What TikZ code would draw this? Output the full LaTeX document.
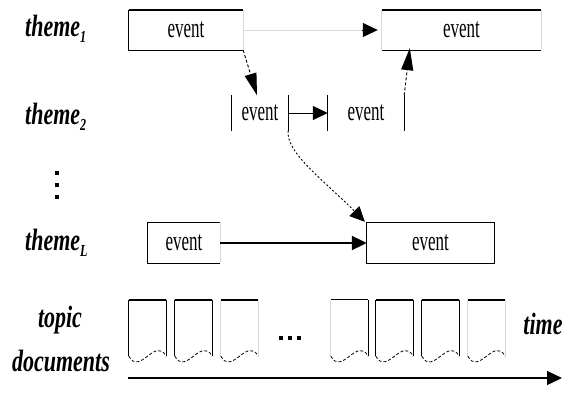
\documentclass[tikz,border=0pt]{standalone}
\usepackage{fontspec}
\setmainfont{Liberation Serif}
\usetikzlibrary{arrows.meta}
\newcommand{\talltext}[1]{\scalebox{1}[1.4]{#1}}
\newcommand{\evtext}{\scalebox{1}[1.65]{event}}
\newcommand{\lowsub}[1]{\raisebox{-4pt}{\fontsize{12}{12}\selectfont #1}}
\begin{document}
\begin{tikzpicture}[x=1pt,y=-1pt,
  lbl/.style={font=\fontsize{22}{22}\selectfont\bfseries\itshape, inner sep=0pt},
  evbox/.style={font=\fontsize{17}{17}\selectfont, inner sep=0pt, minimum height=40pt},
  edge/.style={line width=1pt, black},
  topline/.style={line width=2.6pt, black},
  faint/.style={line width=0.7pt, black!15},
  tip/.style={-{Triangle[length=15pt,width=14pt]}},
  vtip/.style={-{Triangle[length=22pt,width=12pt]}},
  dashline/.style={line width=0.9pt, dash pattern=on 3pt off 2pt},
  dotline/.style={line width=0.9pt, dash pattern=on 2pt off 2pt},
  dotsq/.style={fill=black, inner sep=0pt, minimum size=4.5pt},
  docnode/.style={inner sep=0pt, minimum width=37pt, minimum height=56pt},
  wave/.style={line width=0.8pt, dash pattern=on 3pt off 2pt}
]
\useasboundingbox (0,0) rectangle (566,392);

% row labels
\node[lbl, anchor=west] (t1) at (25,29) {\talltext{theme\lowsub{1}}};
\node[lbl, anchor=west] (t2) at (25,117) {\talltext{theme\lowsub{2}}};
\node[lbl, anchor=west] (tL) at (25,243) {\talltext{theme\lowsub{L}}};
\node[dotsq] (v1) at (57,173) {};
\node[dotsq] (v2) at (57,185) {};
\node[dotsq] (v3) at (57,197) {};
\node[lbl] (tp) at (60,320) {\talltext{topic}};
\node[lbl] (td) at (61,361) {\talltext{documents}};
\node[lbl] (tm) at (543,324) {\talltext{time}};

% event boxes
\node[evbox, minimum width=114pt] (e1) at (186,30) {\evtext};
\node[evbox, minimum width=159pt] (e2) at (461.5,30) {\evtext};
\node[evbox, minimum width=56pt, minimum height=35pt] (f1) at (260,113) {\evtext};
\node[evbox, minimum width=76pt, minimum height=35pt] (f2) at (366,113) {\evtext};
\node[evbox, minimum width=72pt] (g1) at (184,243) {\evtext};
\node[evbox, minimum width=127pt] (g2) at (430.5,243) {\evtext};

% box edges
\draw[topline] (e1.north west) -- (e1.north east);
\draw[edge] (e1.north west) -- (e1.south west) -- (e1.south east);
\draw[faint] (e1.north east) -- (e1.south east);
\draw[topline] (e2.north west) -- (e2.north east);
\draw[edge] (e2.south west) -- (e2.south east);
\draw[faint] (e2.north west) -- (e2.south west) (e2.north east) -- (e2.south east);
\draw[edge] (f1.north west) -- (f1.south west) (f1.north east) -- (f1.south east);
\draw[edge] (f2.north west) -- (f2.south west) (f2.north east) -- (f2.south east);
\draw[edge] (g1.north east) -- (g1.north west) -- (g1.south west) -- (g1.south east);
\draw[faint] (g1.north east) -- (g1.south east);
\draw[edge] (g2.north west) rectangle (g2.south east);

% connectors
\draw[faint, shorten >=16pt] (e1.east) -- (e2.west);
\draw[edge, tip, shorten >=4pt] ([xshift=-20pt]e2.west) -- (e2.west);
\draw[dashline, vtip] (e1.south east) -- ([xshift=-3pt]f1.north);
\draw[edge, tip] (f1.east) -- (f2.west);
\draw[dashline, vtip] (f2.north east) -- ([xshift=28pt,yshift=2pt]e2.south west);
\draw[dotline, tip] (f1.south east) .. controls ([shift={(-3,22)}]f1.south east) and ([shift={(-40,-40)}]g2.north west) .. ([shift={(-2,-1)}]g2.north west);
\draw[line width=2pt, tip] (g1.east) -- (g2.west);

% documents
\foreach \i/\x/\ls/\rs/\tp in {1/129/edge/edge/topline, 2/175/edge/edge/topline, 3/221/faint/faint/topline, 4/331/faint/edge/edge, 5/376/edge/edge/topline, 6/422/edge/edge/topline, 7/468/faint/faint/topline}{
  \node[docnode] (d\i) at (\x+18.5,328) {};
  \draw[\tp] (d\i.north west) -- (d\i.north east);
  \draw[\ls] (d\i.north west) -- (d\i.south west);
  \draw[\rs] (d\i.north east) -- (d\i.south east);
  \draw[wave] (d\i.south west) .. controls ([shift={(11,20)}]d\i.south west) and ([shift={(-11,-20)}]d\i.south east) .. (d\i.south east);
}
\node[dotsq] (h1) at (281,338) {};
\node[dotsq] (h2) at (290,338) {};
\node[dotsq] (h3) at (299,338) {};

% time axis
\coordinate (ax0) at (128,378);
\coordinate (ax1) at (562,378);
\draw[line width=1.3pt, tip] (ax0) -- (ax1);
\end{tikzpicture}
\end{document}
